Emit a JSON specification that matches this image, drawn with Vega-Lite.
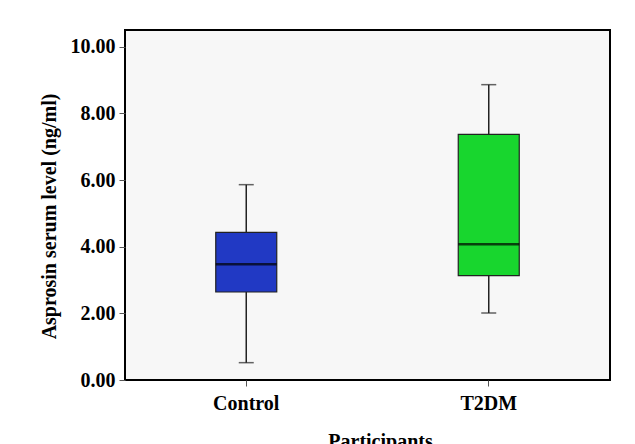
{
  "$schema": "https://vega.github.io/schema/vega-lite/v6.json",
  "width": 485,
  "height": 350,
  "autosize": "none",
  "padding": {"left": 125, "top": 30, "right": 25, "bottom": 64},
  "background": "white",
  "config": {
    "font": "Liberation Serif",
    "view": {"fill": "#f7f7f7", "stroke": "black", "strokeWidth": 2}
  },
  "data": {
    "values": [
      {"group": "Control", "lower": 0.52, "q1": 2.64, "median": 3.47, "q3": 4.43, "upper": 5.86},
      {"group": "T2DM", "lower": 2.01, "q1": 3.13, "median": 4.07, "q3": 7.37, "upper": 8.86}
    ]
  },
  "encoding": {
    "x": {
      "field": "group",
      "type": "nominal",
      "sort": ["Control", "T2DM"],
      "scale": {"paddingInner": 0, "paddingOuter": 0},
      "axis": {
        "title": "Participants",
        "titleFontSize": 20,
        "titleFontWeight": "bold",
        "titleColor": "black",
        "titleX": 255,
        "titleY": 51,
        "titleBaseline": "top",
        "labelFontSize": 20,
        "labelFontWeight": "bold",
        "labelColor": "black",
        "labelAngle": 0,
        "labelPadding": 7,
        "tickSize": 6,
        "tickColor": "#555",
        "domain": false,
        "grid": false
      }
    }
  },
  "layer": [
    {
      "mark": {"type": "rule", "color": "#222", "strokeWidth": 1.5},
      "encoding": {
        "y": {
          "field": "lower",
          "type": "quantitative",
          "title": "Asprosin serum level (ng/ml)",
          "scale": {"domain": [0, 10.5], "nice": false, "zero": false},
          "axis": {
            "values": [0, 2, 4, 6, 8, 10],
            "format": ".2f",
            "labelFontSize": 20,
            "labelFontWeight": "bold",
            "labelColor": "black",
            "labelPadding": 4,
            "tickSize": 6,
            "tickColor": "#555",
            "domain": false,
            "grid": false,
            "titleFontSize": 20,
            "titleFontWeight": "bold",
            "titleColor": "black",
            "titleX": -66,
            "titleY": 186
          }
        },
        "y2": {"field": "upper"}
      }
    },
    {
      "mark": {"type": "tick", "color": "#222", "size": 15, "thickness": 1.5},
      "encoding": {"y": {"field": "lower", "type": "quantitative", "title": "Asprosin serum level (ng/ml)"}}
    },
    {
      "mark": {"type": "tick", "color": "#222", "size": 15, "thickness": 1.5},
      "encoding": {"y": {"field": "upper", "type": "quantitative", "title": "Asprosin serum level (ng/ml)"}}
    },
    {
      "mark": {"type": "bar", "size": 61, "stroke": "#222", "strokeWidth": 1.2},
      "encoding": {
        "y": {"field": "q1", "type": "quantitative", "title": "Asprosin serum level (ng/ml)"},
        "y2": {"field": "q3"},
        "color": {
          "field": "group",
          "type": "nominal",
          "scale": {"domain": ["Control", "T2DM"], "range": ["#2139c4", "#18d62e"]},
          "legend": null
        }
      }
    },
    {
      "mark": {"type": "tick", "color": "black", "size": 61, "thickness": 2.5},
      "encoding": {"y": {"field": "median", "type": "quantitative", "title": "Asprosin serum level (ng/ml)"}}
    }
  ]
}
